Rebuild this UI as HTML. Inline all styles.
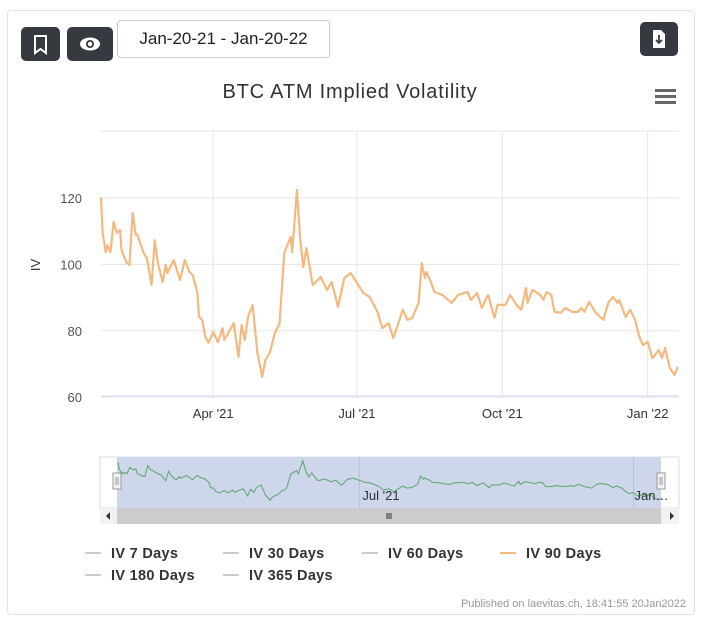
<!DOCTYPE html>
<html><head><meta charset="utf-8"><style>
body{margin:0;width:701px;height:623px;background:#fff;font-family:"Liberation Sans",sans-serif;overflow:hidden}
.card{position:absolute;left:7px;top:10px;width:686px;height:603px;border:1px solid #e4e4e4;border-radius:4px}
.btn{position:absolute;background:#343a40;border-radius:5px}
.date{position:absolute;left:117px;top:20px;width:211px;height:36px;border:1px solid #ccc;border-radius:4px;font-size:17px;line-height:36px;text-align:center;color:#222}
svg text{font-family:"Liberation Sans",sans-serif}
</style></head><body>
<div class="card"></div>
<div class="btn" style="left:21px;top:27px;width:39px;height:34px">
<svg width="39" height="34"><path d="M14 9h11v17l-5.5-4-5.5 4z" fill="none" stroke="#fff" stroke-width="2"/></svg></div>
<div class="btn" style="left:67px;top:27px;width:46px;height:34px">
<svg width="46" height="34"><ellipse cx="23" cy="17" rx="10" ry="6.5" fill="#fff"/><circle cx="23" cy="17" r="4" fill="#343a40"/><circle cx="23" cy="17" r="2.2" fill="#fff"/></svg></div>
<div class="date">Jan-20-21 - Jan-20-22</div>
<div class="btn" style="left:640px;top:22px;width:38px;height:34px">
<svg width="38" height="34"><path d="M13 8h8l4 4v14h-12z" fill="#fff"/><path d="M19 13v8M16 18l3 3 3-3" stroke="#343a40" stroke-width="1.8" fill="none"/></svg></div>
<svg id="c" width="701" height="623" style="position:absolute;left:0;top:0">
<text x="350" y="98" text-anchor="middle" font-size="20" letter-spacing="0.8" fill="#333">BTC ATM Implied Volatility</text>
<g><rect x="655" y="89" width="21" height="3" fill="#666"/><rect x="655" y="95" width="21" height="3" fill="#666"/><rect x="655" y="101" width="21" height="3" fill="#666"/></g>
<text x="40" y="265" transform="rotate(-90 40 265)" text-anchor="middle" font-size="13" fill="#333">IV</text>
<g id="grid"></g><g id="main"></g><g id="nav"></g>
<text x="686" y="607" text-anchor="end" font-size="11" fill="#999">Published on laevitas.ch, 18:41:55 20Jan2022</text>
</svg>
<script>
const days=[0,1,3,4,6,8,10,12,13,16,18,20,22,23,27,29,32,34,36,39,41,42,46,50,53,56,58,61,62,64,66,68,71,74,77,78,84,87,89,91,93,96,99,102,104,107,110,113,116,120,121,124,126,128,130,134,139,143,146,150,154,158,162,166,170,175,178,182,185,191,194,197,201,203,205,206,209,211,216,222,226,232,234,238,241,245,249,251,256,259,263,266,269,270,273,278,280,282,285,287,291,294,298,302,304,306,309,313,318,321,324,327,328,332,335,338,341,343,346,349,353,355,357,360,363,365];
const iv90=[120.3,109.5,103.7,105.8,103.7,112.8,109.5,110.4,104.3,100.7,99.8,115.5,108.9,108.9,103.4,101.9,93.8,107.3,100.4,94.7,99.8,97.4,101.3,95.3,101.3,97.7,96.8,91.4,84.2,83.3,78.2,76.4,79.6,76.6,80.8,77.2,82.3,72.1,81.7,77.2,84.2,87.8,73.3,66.1,71.2,73.6,79.3,82.3,103.4,108.3,103.7,122.4,108,99.2,104.9,93.8,96.2,92.3,94.7,87.2,95.9,97.4,94.4,91.4,90.2,85.7,80.8,82.3,77.8,86.3,83.3,83.9,88.4,100.4,95.9,97.7,94.4,91.7,90.8,88.4,90.8,91.7,89.3,91.4,86.9,90.8,83.9,87.8,87.8,90.8,87.8,86.3,92.9,88.4,92.3,90.8,89.3,91.7,90.8,85.7,85.4,86.9,85.7,85.7,86.9,85.7,88.7,85.4,83.3,88.4,90.2,88.4,89.3,84.2,86.3,83.3,77.8,75.7,76.6,71.8,74.2,71.8,74.8,68.8,66.7,69.1];
const yTicks=[60,80,100,120];
const xTickLabels=["Apr '21","Jul '21","Oct '21","Jan '22"];
const xTickDays=[71,162,254,346];
const legendNames=["IV 7 Days","IV 30 Days","IV 60 Days","IV 90 Days","IV 180 Days","IV 365 Days"];
const NS="http://www.w3.org/2000/svg";
function mk(p,t,a){const e=document.createElementNS(NS,t);for(const k in a)e.setAttribute(k,a[k]);p.appendChild(e);return e;}
const X=d=>101+d*1.58, Y=v=>198+(120-v)*3.32;
const NX=d=>118+d*1.49, NY=v=>461+(122-v)*0.7;
const g=document.getElementById('grid'),m=document.getElementById('main'),n=document.getElementById('nav');
mk(g,'line',{x1:101,x2:679,y1:131,y2:131,stroke:'#e6e6e6'});
yTicks.forEach(v=>{const l=mk(g,'line',{x1:101,x2:679,y1:Y(v),y2:Y(v),stroke:'#e6e6e6'});


const t=mk(g,'text',{x:82,y:Y(v)+5,'text-anchor':'end','font-size':13,fill:'#555'});t.textContent=v;

});
xTickDays.forEach((d,i)=>{mk(g,'line',{x1:X(d),x2:X(d),y1:131,y2:396,stroke:'#e6e6e6'});
const t=mk(g,'text',{x:X(d),y:418,'text-anchor':'middle','font-size':13,fill:'#333'});t.textContent=xTickLabels[i];

});
mk(g,'line',{x1:101,x2:679,y1:396,y2:396,stroke:'#ccd6eb'});
const line=mk(m,'polyline',{points:days.map((d,i)=>X(d)+','+Y(iv90[i])).join(' '),fill:'none',stroke:'#f4b97f','stroke-width':2.2,'stroke-linejoin':'round'});


mk(n,'rect',{x:100,y:457,width:579,height:51,fill:'#fff',stroke:'#ddd'});
const band=mk(n,'rect',{x:117,y:457,width:544,height:51,fill:'#cdd6ea'});


[162,346].forEach(d=>mk(n,'line',{x1:NX(d),x2:NX(d),y1:457,y2:508,stroke:'#b8c2d6'}));
const nl=mk(n,'polyline',{points:days.map((d,i)=>NX(d)+','+NY(iv90[i])).join(' '),fill:'none',stroke:'#5aa56e','stroke-width':1});


[["Jul '21",NX(162)+3],["Jan…",NX(346)+1]].forEach(a=>{const t=mk(n,'text',{x:a[1],y:500,'font-size':13,fill:'#333'});t.textContent=a[0];

});
[117,661].forEach(x=>{const h=mk(n,'rect',{x:x-4,y:473,width:8,height:16,fill:'#f2f2f2',stroke:'#999'});


mk(n,'line',{x1:x-1,x2:x-1,y1:477,y2:485,stroke:'#999'});mk(n,'line',{x1:x+1,x2:x+1,y1:477,y2:485,stroke:'#999'});});
const sb=mk(n,'rect',{x:100,y:508,width:579,height:16,fill:'#f2f2f2'});


mk(n,'rect',{x:117,y:508,width:544,height:16,fill:'#cccccc'});
mk(n,'path',{d:'M110 512l-4 4 4 4z',fill:'#333'});mk(n,'path',{d:'M670 512l4 4-4 4z',fill:'#333'});
[-2,0,2].forEach(o=>mk(n,'line',{x1:389+o,x2:389+o,y1:513,y2:519,stroke:'#333'}));
const lp=[[85,553],[223,553],[362,553],[500,553],[85,575],[223,575]];
legendNames.forEach((nm,i)=>{const gg=mk(m,'g',{});


mk(gg,'line',{x1:lp[i][0],x2:lp[i][0]+16,y1:lp[i][1],y2:lp[i][1],stroke:i==3?'#f4b97f':'#ccc','stroke-width':2});
const t=mk(gg,'text',{x:lp[i][0]+26,y:lp[i][1]+5,'font-size':14.5,'font-weight':'bold','letter-spacing':0.3,fill:'#333'});t.textContent=nm;});
</script>
</body></html>
